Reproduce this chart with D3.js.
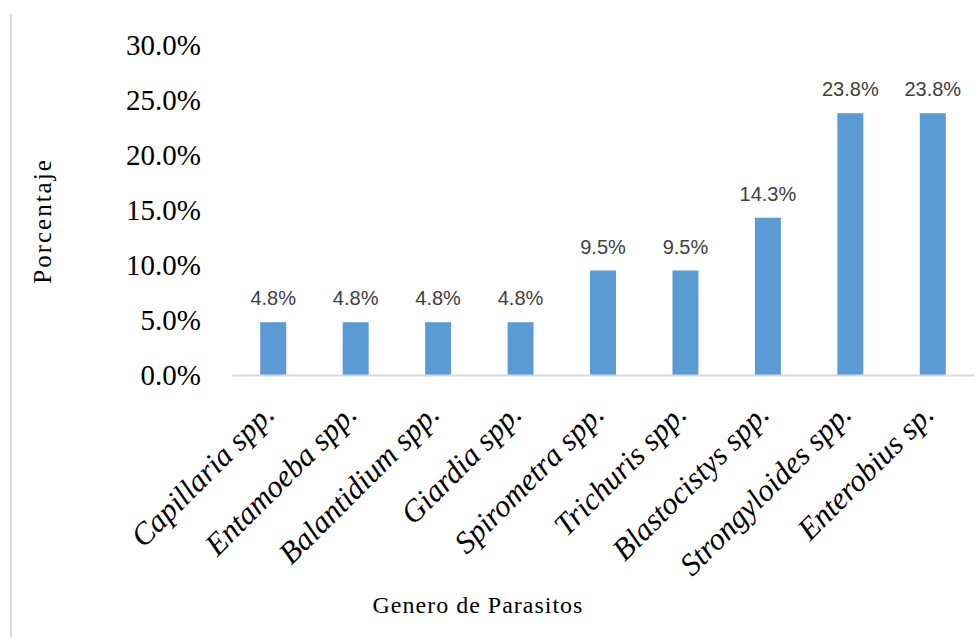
<!DOCTYPE html>
<html>
<head>
<meta charset="utf-8">
<script src="https://cdn.jsdelivr.net/npm/d3@7"></script>
<style>
  html, body { margin: 0; padding: 0; background: #ffffff; }
  svg { display: block; }
</style>
</head>
<body>
<svg id="chart" width="979" height="637"></svg>
<script>
const categories = ["Capillaria spp.", "Entamoeba spp.", "Balantidium spp.", "Giardia spp.", "Spirometra spp.", "Trichuris spp.", "Blastocistys spp.", "Strongyloides spp.", "Enterobius sp."];
const values = [4.8, 4.8, 4.8, 4.8, 9.5, 9.5, 14.3, 23.8, 23.8];
const yTicks = [0, 5, 10, 15, 20, 25, 30];
const yTitle = "Porcentaje";
const xTitle = "Genero de Parasitos";

const svg = d3.select("#chart");

// chart frame left border
svg.append("line")
  .attr("x1", 11).attr("x2", 11).attr("y1", 14).attr("y2", 637)
  .attr("stroke", "#d9d9d9").attr("stroke-width", 2);

const x = d3.scaleBand().domain(categories).range([232, 974])
  .paddingInner(0.685).paddingOuter(0.3425);
const y = d3.scaleLinear().domain([0, 30]).range([375, 45]);

// y axis labels
const yAxis = d3.axisLeft(y).tickValues(yTicks).tickSize(0).tickPadding(0)
  .tickFormat(d => d.toFixed(1) + "%");
const yg = svg.append("g").attr("transform", "translate(201,0)").call(yAxis);
yg.select(".domain").remove();
yg.selectAll("text")
  .attr("font-family", "'Liberation Serif', 'Times New Roman', serif")
  .attr("font-size", 29).attr("fill", "#000").attr("dy", "0.33em");

// bars
svg.append("g").selectAll("rect").data(values).join("rect")
  .attr("x", (d, i) => x(categories[i]))
  .attr("y", d => y(d))
  .attr("width", x.bandwidth())
  .attr("height", d => y(0) - y(d))
  .attr("fill", "#5b9bd5");

// x axis line
const xAxis = d3.axisBottom(x).tickSize(0).tickFormat("");
const xg = svg.append("g").attr("transform", "translate(0,375)").call(xAxis);
xg.select(".domain").attr("stroke", "#d9d9d9").attr("stroke-width", 2);

// data labels
svg.append("g").selectAll("text").data(values).join("text")
  .attr("x", (d, i) => x(categories[i]) + x.bandwidth() / 2)
  .attr("y", d => y(d) - 17)
  .attr("text-anchor", "middle")
  .attr("font-family", "'Liberation Sans', Arial, sans-serif")
  .attr("font-size", 20)
  .attr("fill", "#404040")
  .text(d => d.toFixed(1) + "%");

// category labels
svg.append("g").selectAll("text").data(categories).join("text")
  .attr("transform", d => `translate(${x(d) + x.bandwidth() / 2 + 3},416) rotate(-45)`)
  .attr("text-anchor", "end")
  .attr("font-family", "'Liberation Serif', 'Times New Roman', serif")
  .attr("font-style", "italic")
  .attr("font-size", 31)
  .attr("fill", "#000")
  .text(d => d);

// axis titles
svg.append("text")
  .attr("transform", "translate(51,221) rotate(-90)")
  .attr("text-anchor", "middle")
  .attr("font-family", "'Liberation Serif', 'Times New Roman', serif")
  .attr("font-size", 25)
  .attr("letter-spacing", 2)
  .attr("fill", "#000")
  .text(yTitle);

svg.append("text")
  .attr("x", 478).attr("y", 613)
  .attr("text-anchor", "middle")
  .attr("font-family", "'Liberation Serif', 'Times New Roman', serif")
  .attr("font-size", 24)
  .attr("letter-spacing", 1)
  .attr("fill", "#000")
  .text(xTitle);
</script>
</body>
</html>
